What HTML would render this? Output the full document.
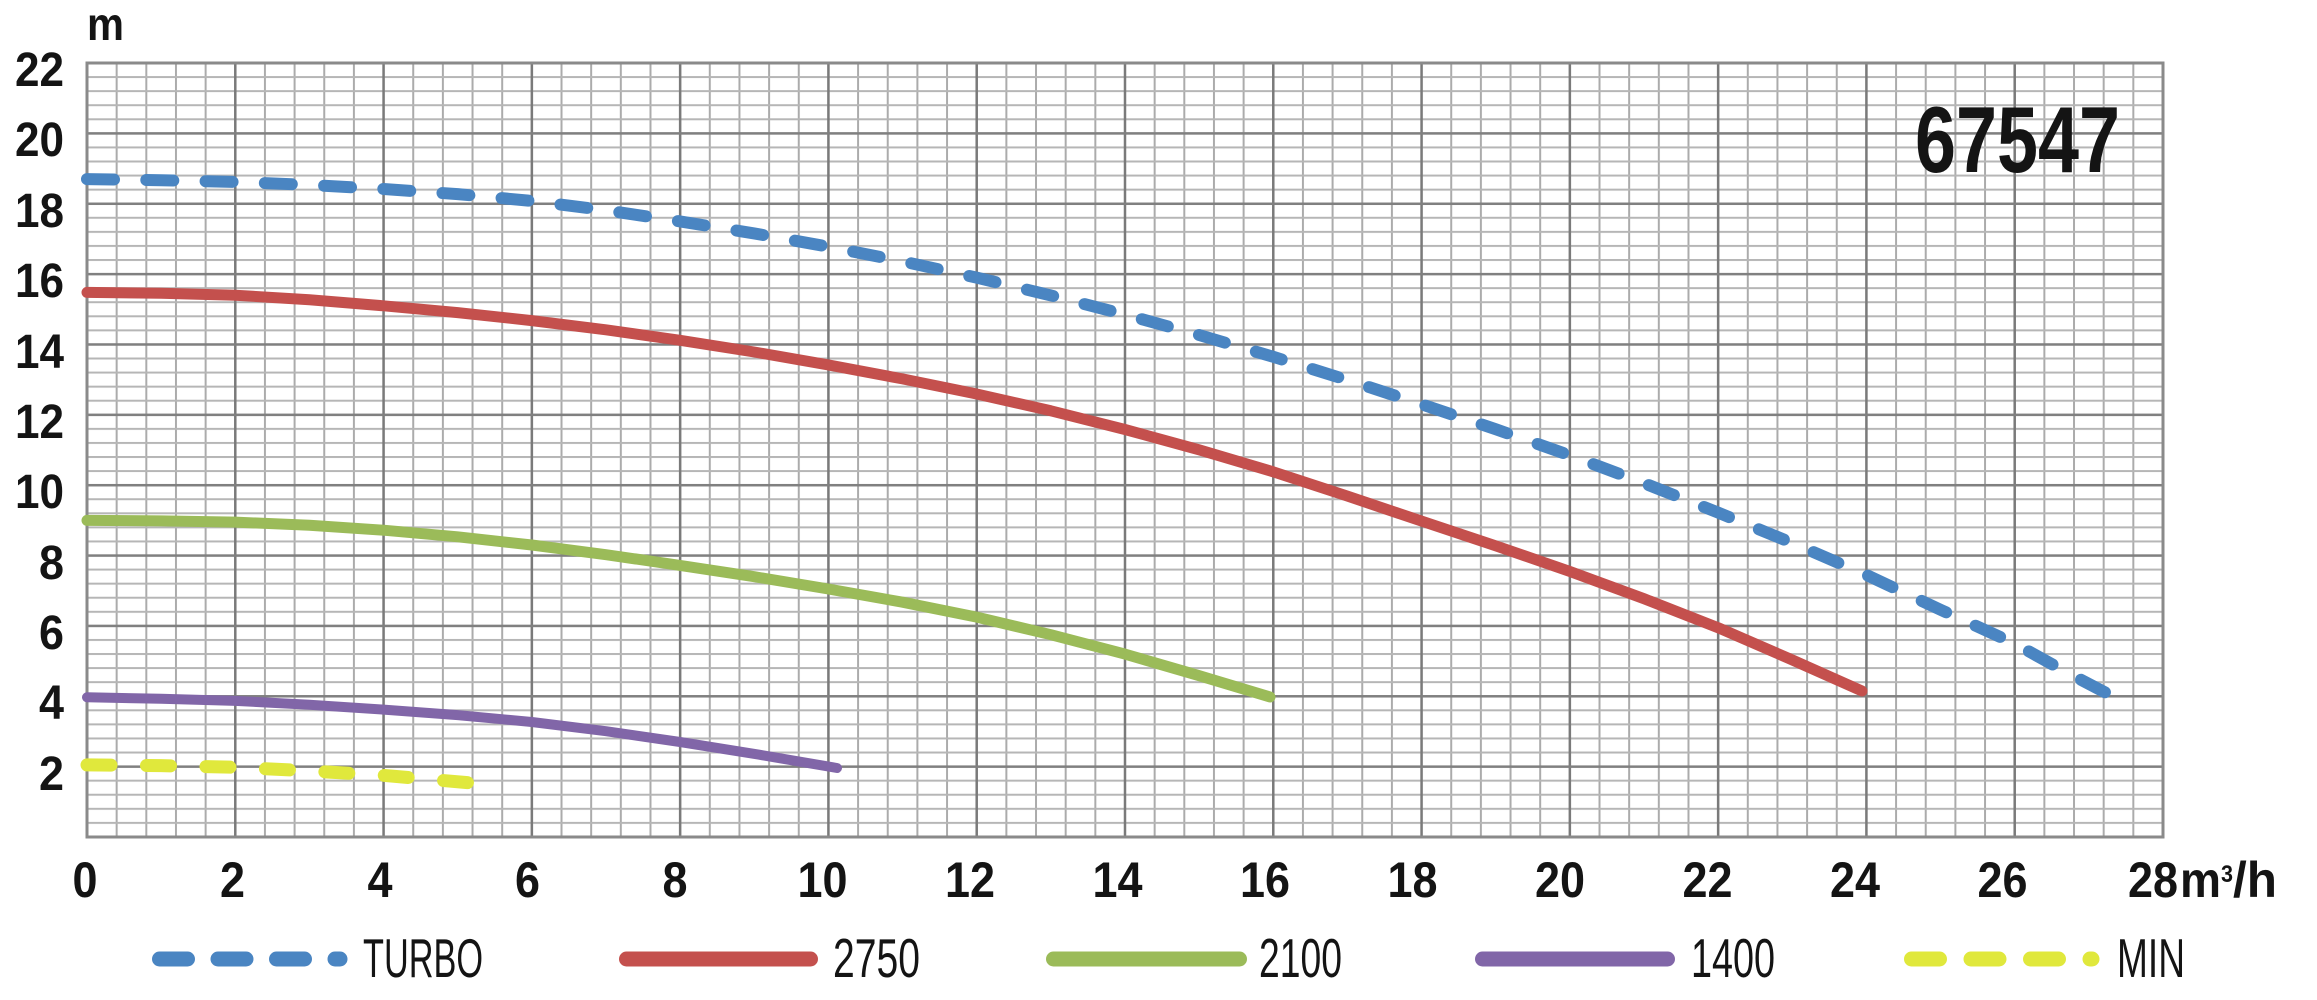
<!DOCTYPE html>
<html>
<head>
<meta charset="utf-8">
<style>
  html,body{margin:0;padding:0;background:#fff;}
  svg{display:block;}
  text{font-family:"Liberation Sans", sans-serif; fill:#141414;}
</style>
</head>
<body>
<svg width="2317" height="1000" viewBox="0 0 2317 1000" xmlns="http://www.w3.org/2000/svg">
  <defs>
    <pattern id="minor" patternUnits="userSpaceOnUse" x="86" y="62" width="29.657" height="14.072">
      <rect x="0" y="0" width="2" height="14.072" fill="#ababab"/>
      <rect x="0" y="0" width="29.657" height="2" fill="#b6b6b6"/>
    </pattern>
    <pattern id="major" patternUnits="userSpaceOnUse" x="85.75" y="61.8" width="148.285" height="70.36">
      <rect x="0" y="0" width="2.5" height="70.36" fill="#7a7a7a"/>
      <rect x="0" y="0" width="148.285" height="2.5" fill="#808080"/>
    </pattern>
  </defs>

  <!-- grid -->
  <rect x="87" y="63" width="2076" height="774" fill="#ffffff"/>
  <rect x="87" y="63" width="2076" height="774" fill="url(#minor)"/>
  <rect x="87" y="63" width="2076" height="774" fill="url(#major)"/>
  <rect x="87" y="63" width="2076" height="774" fill="none" stroke="#8a8a8a" stroke-width="3"/>

  <!-- axis unit -->
  <text x="87" y="40" font-size="46" font-weight="bold" textLength="37" lengthAdjust="spacingAndGlyphs">m</text>

  <!-- y labels -->
  <g font-size="48" font-weight="bold" text-anchor="end">
    <text x="64" y="86" textLength="49" lengthAdjust="spacingAndGlyphs">22</text>
    <text x="64" y="156" textLength="49" lengthAdjust="spacingAndGlyphs">20</text>
    <text x="64" y="227" textLength="49" lengthAdjust="spacingAndGlyphs">18</text>
    <text x="64" y="297" textLength="49" lengthAdjust="spacingAndGlyphs">16</text>
    <text x="64" y="368" textLength="49" lengthAdjust="spacingAndGlyphs">14</text>
    <text x="64" y="438" textLength="49" lengthAdjust="spacingAndGlyphs">12</text>
    <text x="64" y="508" textLength="49" lengthAdjust="spacingAndGlyphs">10</text>
    <text x="64" y="579" textLength="25" lengthAdjust="spacingAndGlyphs">8</text>
    <text x="64" y="649" textLength="25" lengthAdjust="spacingAndGlyphs">6</text>
    <text x="64" y="719" textLength="25" lengthAdjust="spacingAndGlyphs">4</text>
    <text x="64" y="790" textLength="25" lengthAdjust="spacingAndGlyphs">2</text>
  </g>

  <!-- x labels -->
  <g font-size="50" font-weight="bold" text-anchor="middle">
    <text x="85" y="897" textLength="25" lengthAdjust="spacingAndGlyphs">0</text>
    <text x="232.5" y="897" textLength="25" lengthAdjust="spacingAndGlyphs">2</text>
    <text x="380" y="897" textLength="25" lengthAdjust="spacingAndGlyphs">4</text>
    <text x="527.5" y="897" textLength="25" lengthAdjust="spacingAndGlyphs">6</text>
    <text x="675" y="897" textLength="25" lengthAdjust="spacingAndGlyphs">8</text>
    <text x="822.5" y="897" textLength="50" lengthAdjust="spacingAndGlyphs">10</text>
    <text x="970" y="897" textLength="50" lengthAdjust="spacingAndGlyphs">12</text>
    <text x="1117.5" y="897" textLength="50" lengthAdjust="spacingAndGlyphs">14</text>
    <text x="1265" y="897" textLength="50" lengthAdjust="spacingAndGlyphs">16</text>
    <text x="1412.5" y="897" textLength="50" lengthAdjust="spacingAndGlyphs">18</text>
    <text x="1560" y="897" textLength="50" lengthAdjust="spacingAndGlyphs">20</text>
    <text x="1707.5" y="897" textLength="50" lengthAdjust="spacingAndGlyphs">22</text>
    <text x="1855" y="897" textLength="50" lengthAdjust="spacingAndGlyphs">24</text>
    <text x="2002.5" y="897" textLength="50" lengthAdjust="spacingAndGlyphs">26</text>
  </g>
  <g font-size="50" font-weight="bold">
    <text x="2128" y="897" textLength="50" lengthAdjust="spacingAndGlyphs">28</text>
    <text x="2180" y="897" textLength="41" lengthAdjust="spacingAndGlyphs">m</text>
    <text x="2221" y="882" font-size="24" textLength="12" lengthAdjust="spacingAndGlyphs">3</text>
    <text x="2233" y="897" textLength="44" lengthAdjust="spacingAndGlyphs">/h</text>
  </g>

  <!-- title -->
  <text x="1915" y="172" font-size="94" font-weight="bold" textLength="205" lengthAdjust="spacingAndGlyphs">67547</text>

  <!-- curves -->
  <g fill="none" stroke-linecap="round" stroke-linejoin="round">
    <polyline stroke="#4a85c2" stroke-width="12" stroke-dasharray="27 32.3"
      points="87,179.1 161.15,180.2 235.3,181.9 309.45,184.9 383.6,189.0 457.7,194.1 531.8,200.9 605.95,210.3 680.1,221.4 754.25,233.4 828.4,246.7 902.55,261.4 976.7,277.6 1050.85,295.4 1125.0,314.6 1199.1,335.0 1273.2,356.8 1347.35,380.0 1421.5,404.3 1495.65,429.2 1569.8,455.3 1643.95,483.2 1718.1,512.6 1792.25,543.0 1866.4,574.9 1940.5,609.75 2014.6,643.5 2064.3,671 2114,697"/>
    <polyline stroke="#c4504d" stroke-width="11"
      points="87,292.4 161.15,293.3 235.3,295.2 309.45,299.75 383.6,305.8 457.7,312.6 531.8,320.6 605.95,329.8 680.1,340.3 754.25,352.0 828.4,364.9 902.55,378.9 976.7,394.0 1050.85,410.8 1125.0,429.5 1199.1,449.8 1273.2,471.8 1347.35,496.05 1421.5,521.1 1495.65,545.8 1569.8,571.4 1643.95,598.7 1718.1,627.7 1790,658.9 1862,691"/>
    <polyline stroke="#9bbb59" stroke-width="11"
      points="87,520.4 161.15,520.85 235.3,522.1 309.45,525.3 383.6,530.2 457.7,536.8 531.8,545.0 605.95,554.65 680.1,565.4 754.25,576.7 828.4,589.0 902.55,602.2 976.7,617.1 1050.85,634.7 1125.0,654.1 1197.5,675.2 1270,697"/>
    <polyline stroke="#8166a8" stroke-width="10"
      points="87,697.3 161.15,698.8 235.3,700.9 309.45,704.7 383.6,709.6 457.7,715.1 531.8,722.0 605.95,731.15 680.1,742.0 758.5,754.6 837,768"/>
    <polyline stroke="#e0e83c" stroke-width="13" stroke-dasharray="24 35.5"
      points="87,764.9 161,765.6 235.3,767.3 309.4,770.9 383.6,775.4 472,783"/>
  </g>

  <!-- legend -->
  <g fill="none" stroke-linecap="round" stroke-width="15">
    <path d="M159.5 959 L340 959" stroke="#4a85c2" stroke-dasharray="28 30.5"/>
    <path d="M626.5 959 L810.5 959" stroke="#c4504d"/>
    <path d="M1053.5 959 L1239.5 959" stroke="#9bbb59"/>
    <path d="M1482.5 959 L1667.5 959" stroke="#8166a8"/>
    <path d="M1911.5 959 L2092 959" stroke="#e0e83c" stroke-dasharray="28 31.5"/>
  </g>
  <g font-size="55">
    <text x="363" y="977" textLength="120" lengthAdjust="spacingAndGlyphs">TURBO</text>
    <text x="833" y="977" textLength="87" lengthAdjust="spacingAndGlyphs">2750</text>
    <text x="1259" y="977" textLength="83" lengthAdjust="spacingAndGlyphs">2100</text>
    <text x="1691" y="977" textLength="84" lengthAdjust="spacingAndGlyphs">1400</text>
    <text x="2117" y="977" textLength="68" lengthAdjust="spacingAndGlyphs">MIN</text>
  </g>
</svg>
</body>
</html>
